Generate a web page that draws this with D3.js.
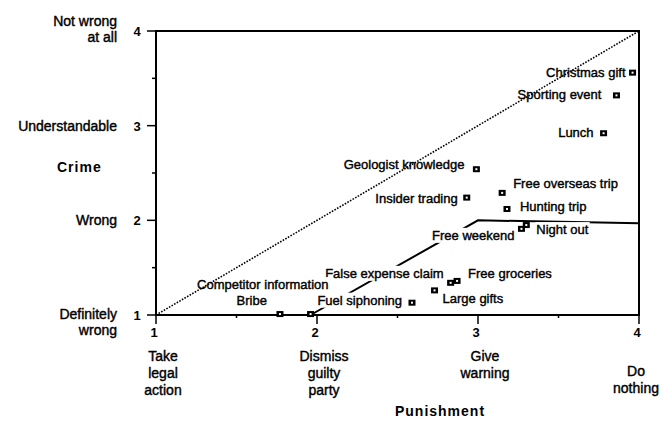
<!DOCTYPE html>
<html>
<head>
<meta charset="utf-8">
<script src="https://cdn.jsdelivr.net/npm/d3@7"></script>
<style>
  body { margin: 0; background: #fff; }
  svg { display: block; font-family: "Liberation Sans", Arial, sans-serif; }
  .lbl { font-size: 13px; fill: #000; stroke: #000; stroke-width: 0.4px; }
  .axlbl { font-size: 14px; fill: #000; stroke: #000; stroke-width: 0.4px; }
  .num { font-size: 13px; font-weight: bold; fill: #000; }
  .title { font-size: 14px; font-weight: bold; letter-spacing: 1px; fill: #000; }
</style>
</head>
<body>
<svg id="chart" width="662" height="423"></svg>
<script>
// ---- data ----
const items = ["Christmas gift", "Sporting event", "Lunch", "Geologist knowledge",
  "Free overseas trip", "Insider trading", "Hunting trip", "Night out", "Free weekend",
  "False expense claim", "Free groceries", "Large gifts", "Fuel siphoning", "Bribe",
  "Competitor information"];
const punishment = [3.96, 3.86, 3.78, 2.99, 3.15, 2.93, 3.18, 3.30, 3.27, 2.83, 2.87, 2.73, 2.59, 1.77, 1.96];
const crime      = [3.56, 3.32, 2.92, 2.54, 2.29, 2.24, 2.12, 1.95, 1.91, 1.34, 1.36, 1.26, 1.13, 1.01, 1.01];

const diagonal = [[1, 1], [4, 4]];
const boundary = [[1.96, 1.0], [3.0, 2.0], [4.0, 1.97]];

const xTicks = [1, 2, 3, 4];
const xCats = [["Take", "legal", "action"], ["Dismiss", "guilty", "party"], ["Give", "warning"], ["Do", "nothing"]];
const yTicks = [1, 2, 3, 4];
const yCats = [["Definitely", "wrong"], ["Wrong"], ["Understandable"], ["Not wrong", "at all"]];

// label placement relative to the marker: [anchor, dx, dy]
const labelPos = {
  "Christmas gift": ["end", -7, 4],
  "Sporting event": ["end", -15, 4],
  "Lunch": ["end", -10, 4],
  "Geologist knowledge": ["end", -12, 0],
  "Free overseas trip": ["start", 11, -5],
  "Insider trading": ["end", -9, 5],
  "Hunting trip": ["start", 13, 2],
  "Night out": ["start", 10, 9],
  "Free weekend": ["end", -7, 11],
  "False expense claim": ["end", -7, -5],
  "Free groceries": ["start", 11, -3],
  "Large gifts": ["start", 8, 13],
  "Fuel siphoning": ["end", -10, 2],
  "Bribe": ["end", -13, -9],
  "Competitor information": ["end", 18, -25]
};

const svg = d3.select("#chart");
const x = d3.scaleLinear().domain([1, 4]).range([156, 639]);
const y = d3.scaleLinear().domain([1, 4]).range([315, 31]);

const line = d3.line().x(d => x(d[0])).y(d => y(d[1]));

// solid boundary line (drawn first, labels mask it)
svg.append("path").datum(boundary)
  .attr("d", line).attr("fill", "none")
  .attr("stroke", "#000").attr("stroke-width", 2);

// frame
svg.append("rect")
  .attr("x", x(1)).attr("y", y(4))
  .attr("width", x(4) - x(1)).attr("height", y(1) - y(4))
  .attr("fill", "none").attr("stroke", "#000").attr("stroke-width", 2);

// y ticks (major + minor)
const yMinor = d3.range(1.5, 4, 1);
svg.selectAll(".ytk").data(yTicks).enter().append("line")
  .attr("x1", x(1) - 9).attr("x2", x(1))
  .attr("y1", d => y(d)).attr("y2", d => y(d))
  .attr("stroke", "#000").attr("stroke-width", 1.5);
svg.selectAll(".ytm").data(yMinor).enter().append("line")
  .attr("x1", x(1) - 4).attr("x2", x(1))
  .attr("y1", d => y(d)).attr("y2", d => y(d))
  .attr("stroke", "#000").attr("stroke-width", 1.5);

// x ticks
svg.selectAll(".xtk").data(xTicks).enter().append("line")
  .attr("x1", d => x(d)).attr("x2", d => x(d))
  .attr("y1", y(1)).attr("y2", y(1) + 9)
  .attr("stroke", "#000").attr("stroke-width", 1.5);
svg.selectAll(".xtm").data(yMinor).enter().append("line")
  .attr("x1", d => x(d)).attr("x2", d => x(d))
  .attr("y1", y(1)).attr("y2", y(1) + 3)
  .attr("stroke", "#000").attr("stroke-width", 1.5);

// tick numbers
svg.selectAll(".ynum").data(yTicks).enter().append("text")
  .attr("class", "num").attr("x", 137).attr("y", d => y(d) + 5)
  .attr("text-anchor", "middle").text(d => d);
svg.selectAll(".xnum").data(xTicks).enter().append("text")
  .attr("class", "num").attr("x", d => x(d) - 2).attr("y", 337)
  .attr("text-anchor", "middle").text(d => d);

// y category labels
yTicks.forEach((t, i) => {
  const lines = yCats[i];
  const top = y(t) + 5 - (lines.length - 1) * 16 / 2 + (t === 1 ? 7 : 0) - (t === 4 ? 2 : 0);
  const tx = svg.append("text").attr("class", "axlbl").attr("text-anchor", "end");
  lines.forEach((s, j) => tx.append("tspan").attr("x", 117).attr("y", top + j * 16).text(s));
});

// x category labels
xTicks.forEach((t, i) => {
  const lines = xCats[i];
  const first = t === 4 ? 376 : 361;
  const tx = svg.append("text").attr("class", "axlbl").attr("text-anchor", "middle");
  lines.forEach((s, j) => tx.append("tspan").attr("x", x(t) + (t === 4 ? -3 : 7)).attr("y", first + j * 17).text(s));
});

// axis titles
svg.append("text").attr("class", "title").attr("x", 57).attr("y", 172).text("Crime");
svg.append("text").attr("class", "title").attr("x", 440).attr("y", 416)
  .attr("text-anchor", "middle").text("Punishment");

// point labels with white backing
const pts = items.map((name, i) => ({ name, px: punishment[i], cr: crime[i] }));
const lg = svg.append("g");
pts.forEach(p => {
  const [anchor, dx, dy] = labelPos[p.name];
  const t = lg.append("text").attr("class", "lbl")
    .attr("x", x(p.px) + dx).attr("y", y(p.cr) + dy)
    .attr("text-anchor", anchor).text(p.name);
  const b = t.node().getBBox();
  lg.insert("rect", () => t.node())
    .attr("x", b.x - 1).attr("y", b.y).attr("width", b.width + 2).attr("height", b.height)
    .attr("fill", "#fff");
});

// markers: dark square with a small light centre
const mk = svg.selectAll(".mk").data(pts).enter().append("g")
  .attr("transform", d => `translate(${x(d.px)},${y(d.cr)})`);
mk.append("rect").attr("x", -3.5).attr("y", -3).attr("width", 7).attr("height", 6).attr("fill", "#000");
mk.append("rect").attr("x", -1).attr("y", -1).attr("width", 2).attr("height", 2).attr("fill", "#fff");

// dotted diagonal on top
svg.append("path").datum(diagonal)
  .attr("d", line).attr("fill", "none")
  .attr("stroke", "#000").attr("stroke-width", 1.6)
  .attr("stroke-dasharray", "1.6,1.4");
</script>
</body>
</html>
